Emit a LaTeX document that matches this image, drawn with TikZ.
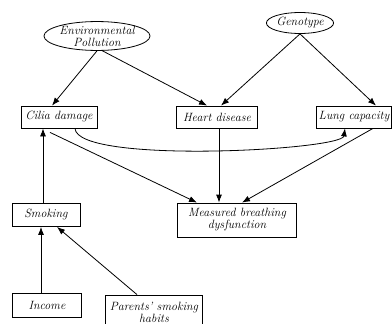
\documentclass[tikz,border=0pt]{standalone}
\usepackage{tikz}
\usetikzlibrary{positioning,arrows.meta,calc,shapes.geometric}

\tikzset{
  box/.style={draw,line width=0.8pt,inner sep=2pt,minimum height=22pt,font=\itshape\fontsize{12}{12}\selectfont},
  oval/.style={draw,ellipse,line width=0.8pt,inner sep=0pt,font=\itshape\fontsize{12}{12}\selectfont,align=center},
  arr/.style={-{Latex[length=8pt,width=6pt]},line width=0.8pt},
}

\begin{document}
\begin{tikzpicture}[x=1pt,y=-1pt]
  \useasboundingbox (0,0) rectangle (392,324);
  % causes
  \node[oval,minimum width=103pt,minimum height=28pt] (env) at (97,36){Environmental\\Pollution};
  \node[oval,minimum width=57pt,minimum height=21pt] (geno) at (300,23){Genotype};
  % middle row
  \node[box,minimum width=76pt] (cilia) at (59,117){Cilia damage};
  \node[box,minimum width=70pt] (lung) at (354,117){Lung capacity};
  \node[box,minimum width=81pt] (heart) at (217,117){Heart disease};
  \node[box,minimum width=119pt,minimum height=34pt,align=center] (meas) at (237,220){Measured breathing\\dysfunction};
  % lower part
  \node[box,minimum width=68pt,minimum height=23pt] (smok) at (46,215){Smoking};
  \node[box,minimum width=69pt,minimum height=24pt] (inc) at (47,305){Income};
  \node[box,minimum width=97pt,minimum height=34pt,align=center] (par) at (154,312){Parents' smoking\\habits};

  \draw[arr] (env.south) -- ([xshift=-7pt]cilia.north);
  \draw[arr] (env.-70) -- ([xshift=-10pt]heart.north);
  \draw[arr] (geno.south) -- ([xshift=4pt]heart.north);
  \draw[arr] (geno.south) -- ([xshift=22pt]lung.north);
  \draw[arr] ([xshift=16pt]cilia.south) .. controls ($(cilia.south)+(18,36)$) and ($(lung.south)+(-12,22)$) .. ([xshift=-9pt]lung.south);
  \draw[arr] ([xshift=-9pt,yshift=-4pt]cilia.south) -- ([xshift=-40pt]meas.north);
  \draw[arr] ([xshift=2pt]heart.south) -- ([xshift=-18pt]meas.north);
  \draw[arr] ([xshift=19pt]lung.south) -- ([xshift=5pt]meas.north);
  \draw[arr] ([xshift=-3pt]smok.north) -- ([xshift=-16pt]cilia.south);
  \draw[arr] ([xshift=-6pt]inc.north) -- ([xshift=-5pt]smok.south);
  \draw[arr] ([xshift=-17pt]par.north) -- ([xshift=11pt]smok.south);
\end{tikzpicture}
\end{document}
